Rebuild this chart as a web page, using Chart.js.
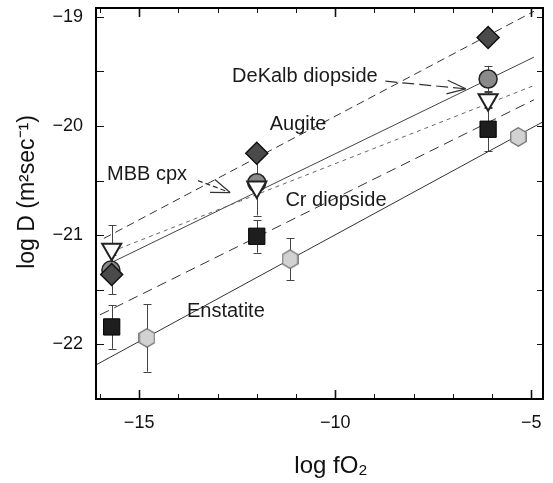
<!DOCTYPE html>
<html>
<head>
<meta charset="utf-8">
<script src="https://cdn.jsdelivr.net/npm/chart.js@4.4.1/dist/chart.umd.min.js"></script>
<style>
  html, body { margin: 0; padding: 0; background: #fff; }
  #wrap { width: 553px; height: 483px; }
</style>
</head>
<body>
<div id="wrap"><canvas id="diffusion"></canvas></div>
<script>
// measured points: log fO2 (x), log D (y), half error bar
const augiteX = [-15.7, -12.0, -6.1];
const augiteY = [-21.36, -20.25, -19.19];
const augiteErr = [0.18, 0, 0];

const dekalbX = [-15.72, -12.0, -6.1];
const dekalbY = [-21.32, -20.52, -19.57];
const dekalbErr = [0, 0, 0.12];

const mbbX = [-15.7, -12.0, -6.1];
const mbbY = [-21.13, -20.56, -19.76];
const mbbErr = [0.22, 0.26, 0.08];

const crX = [-15.7, -12.0, -6.1];
const crY = [-21.84, -21.01, -20.03];
const crErr = [0.2, 0.15, 0.2];

const enstatiteX = [-14.8, -11.15, -5.33];
const enstatiteY = [-21.94, -21.22, -20.10];
const enstatiteErr = [0.31, 0.19, 0];

// fitted lines, two end points each
const augiteFitX = [-15.9, -4.93];
const augiteFitY = [-21.03, -18.95];
const mbbFitX = [-15.7, -4.93];
const mbbFitY = [-21.15, -19.63];
const dekalbFitX = [-15.93, -4.93];
const dekalbFitY = [-21.29, -19.37];
const crFitX = [-16.0, -4.93];
const crFitY = [-21.73, -19.76];
const enstatiteFitX = [-16.11, -4.69];
const enstatiteFitY = [-22.19, -19.96];

// labelled ticks
const xLabelled = [-15, -10, -5];
const yLabelled = [-22, -21, -20, -19];

const FONT = '"Liberation Sans", Arial, Helvetica, sans-serif';

const pts = (xs, ys) => xs.map((x, i) => ({ x: x, y: ys[i] }));
const isIn = (list, v) => list.some(t => Math.abs(t - v) < 1e-6);
const minus = v => String(v).replace('-', '\u2212');

function hexagon() {
    const c = document.createElement('canvas');
    c.width = 17; c.height = 20;
    const g = c.getContext('2d');
    g.beginPath();
    g.moveTo(8.5, 0.8);
    g.lineTo(16.2, 5.3);
    g.lineTo(16.2, 14.7);
    g.lineTo(8.5, 19.2);
    g.lineTo(0.8, 14.7);
    g.lineTo(0.8, 5.3);
    g.closePath();
    g.fillStyle = '#d2d2d2';
    g.fill();
    g.strokeStyle = '#666';
    g.lineWidth = 1.2;
    g.stroke();
    return c;
}

const errSets = [
    [augiteX, augiteY, augiteErr],
    [dekalbX, dekalbY, dekalbErr],
    [mbbX, mbbY, mbbErr],
    [crX, crY, crErr],
    [enstatiteX, enstatiteY, enstatiteErr]
];

// text labels with arrows (data coordinates)
const notes = [
    { text: 'DeKalb diopside', x: -12.63, y: -19.594, arrow: [-8.72, -19.59, -6.67, -19.66], dash: [12, 5] },
    { text: 'Augite', x: -11.67, y: -20.04 },
    { text: 'MBB cpx', x: -15.82, y: -20.495, arrow: [-13.5, -20.50, -12.68, -20.61], dash: [5, 3] },
    { text: 'Cr diopside', x: -11.27, y: -20.733 },
    { text: 'Enstatite', x: -13.78, y: -21.752 }
];

const errorBars = {
    id: 'errorBars',
    beforeDatasetsDraw(chart) {
        const { ctx, scales: { x, y } } = chart;
        ctx.save();
        ctx.strokeStyle = '#444';
        ctx.lineWidth = 1;
        errSets.forEach(([xs, ys, es]) => {
            xs.forEach((v, i) => {
                if (!es[i]) return;
                const px = Math.round(x.getPixelForValue(v)) + 0.5;
                const top = y.getPixelForValue(ys[i] + es[i]);
                const bot = y.getPixelForValue(ys[i] - es[i]);
                ctx.beginPath();
                ctx.moveTo(px, top); ctx.lineTo(px, bot);
                ctx.moveTo(px - 4, Math.round(top) + 0.5); ctx.lineTo(px + 4, Math.round(top) + 0.5);
                ctx.moveTo(px - 4, Math.round(bot) + 0.5); ctx.lineTo(px + 4, Math.round(bot) + 0.5);
                ctx.stroke();
            });
        });
        ctx.restore();
    }
};

const decorations = {
    id: 'decorations',
    afterDraw(chart) {
        const { ctx, chartArea: a, scales: { x, y } } = chart;
        ctx.save();

        // annotations
        ctx.fillStyle = '#1a1a1a';
        ctx.font = '20px ' + FONT;
        ctx.textAlign = 'left';
        ctx.textBaseline = 'alphabetic';
        notes.forEach(n => {
            ctx.fillText(n.text, x.getPixelForValue(n.x), y.getPixelForValue(n.y));
            if (!n.arrow) return;
            const x1 = x.getPixelForValue(n.arrow[0]), y1 = y.getPixelForValue(n.arrow[1]);
            const x2 = x.getPixelForValue(n.arrow[2]), y2 = y.getPixelForValue(n.arrow[3]);
            ctx.strokeStyle = '#333';
            ctx.lineWidth = 1.2;
            ctx.setLineDash(n.dash);
            ctx.beginPath();
            ctx.moveTo(x1, y1); ctx.lineTo(x2, y2);
            ctx.stroke();
            ctx.setLineDash([]);
            const ang = Math.atan2(y2 - y1, x2 - x1);
            [-0.35, 0.35].forEach(d => {
                ctx.beginPath();
                ctx.moveTo(x2, y2);
                ctx.lineTo(x2 - 20 * Math.cos(ang + d), y2 - 20 * Math.sin(ang + d));
                ctx.stroke();
            });
        });

        // inward ticks on all four sides
        ctx.strokeStyle = '#111';
        x.ticks.forEach(t => {
            const major = isIn(xLabelled, t.value);
            const px = Math.round(x.getPixelForValue(t.value)) + 0.5;
            const len = major ? 9 : 5;
            ctx.lineWidth = major ? 1.6 : 1;
            ctx.beginPath();
            ctx.moveTo(px, a.bottom); ctx.lineTo(px, a.bottom - len);
            ctx.moveTo(px, a.top); ctx.lineTo(px, a.top + len);
            ctx.stroke();
        });
        ctx.lineWidth = 1.2;
        y.ticks.forEach(t => {
            const py = Math.round(y.getPixelForValue(t.value)) + 0.5;
            ctx.beginPath();
            ctx.moveTo(a.left, py); ctx.lineTo(a.left + 8, py);
            ctx.moveTo(a.right, py); ctx.lineTo(a.right - 6, py);
            ctx.stroke();
        });

        // frame
        ctx.lineWidth = 2;
        ctx.strokeStyle = '#000';
        ctx.strokeRect(a.left, a.top, a.right - a.left, a.bottom - a.top);

        // axis titles
        ctx.fillStyle = '#111';
        ctx.font = '24px ' + FONT;
        ctx.textAlign = 'center';
        ctx.fillText('log fO\u2082', 331, 473);
        ctx.font = '23px ' + FONT;
        ctx.save();
        ctx.translate(34, 192);
        ctx.rotate(-Math.PI / 2);
        ctx.fillText('log D (m\u00B2sec\u207B\u00B9)', 0, 0);
        ctx.restore();

        ctx.restore();
    }
};

const pointSet = (label, xs, ys, style, order) => Object.assign({
    label: label,
    data: pts(xs, ys),
    showLine: false,
    order: order
}, style);

const fitSet = (xs, ys, dash, color, order) => ({
    data: pts(xs, ys),
    showLine: true,
    pointRadius: 0,
    borderColor: color,
    borderWidth: 1,
    borderDash: dash,
    order: order
});

new Chart(document.getElementById('diffusion'), {
    type: 'scatter',
    data: {
        datasets: [
            pointSet('Augite', augiteX, augiteY, {
                pointStyle: 'rectRot', pointRadius: 11,
                pointBackgroundColor: '#4a4a4a', pointBorderColor: '#111', pointBorderWidth: 1.5
            }, 0),
            pointSet('MBB cpx', mbbX, mbbY, {
                pointStyle: 'triangle', pointRotation: 180, pointRadius: 11,
                pointBackgroundColor: '#fff', pointBorderColor: '#222', pointBorderWidth: 2
            }, 1),
            pointSet('Cr diopside', crX, crY, {
                pointStyle: 'rect', pointRadius: 11.5,
                pointBackgroundColor: '#1e1e1e', pointBorderColor: '#000', pointBorderWidth: 1
            }, 2),
            pointSet('Enstatite', enstatiteX, enstatiteY, {
                pointStyle: hexagon(), pointRadius: 10
            }, 3),
            pointSet('DeKalb diopside', dekalbX, dekalbY, {
                pointStyle: 'circle', pointRadius: 9,
                pointBackgroundColor: '#8a8a8a', pointBorderColor: '#222', pointBorderWidth: 1.5
            }, 4),
            fitSet(augiteFitX, augiteFitY, [8, 5], '#333', 5),
            fitSet(mbbFitX, mbbFitY, [4, 4], '#666', 6),
            fitSet(dekalbFitX, dekalbFitY, [], '#444', 7),
            fitSet(crFitX, crFitY, [10, 6], '#333', 8),
            fitSet(enstatiteFitX, enstatiteFitY, [], '#333', 9)
        ]
    },
    options: {
        responsive: true,
        maintainAspectRatio: false,
        animation: false,
        devicePixelRatio: 1,
        layout: { autoPadding: false, padding: { top: 8, right: 10, left: 0, bottom: 0 } },
        plugins: {
            legend: { display: false },
            tooltip: { enabled: false }
        },
        scales: {
            x: {
                type: 'linear',
                min: -16.1,
                max: -4.7,
                afterFit: s => {
                    s.height = 84;
                    s.paddingLeft = 0;
                    s.paddingRight = 0;
                },
                grid: { display: false, drawTicks: false },
                border: { display: false },
                ticks: {
                    stepSize: 1,
                    includeBounds: false,
                    autoSkip: false,
                    maxRotation: 0,
                    padding: 13,
                    color: '#111',
                    font: { family: FONT, size: 18 },
                    callback: v => isIn(xLabelled, v) ? minus(Math.round(v)) : ''
                }
            },
            y: {
                type: 'linear',
                min: -22.5,
                max: -18.92,
                afterFit: s => {
                    s.width = 96;
                    s.paddingTop = 0;
                    s.paddingBottom = 0;
                },
                grid: { display: false, drawTicks: false },
                border: { display: false },
                ticks: {
                    stepSize: 0.5,
                    includeBounds: false,
                    autoSkip: false,
                    padding: 13,
                    color: '#111',
                    font: { family: FONT, size: 18 },
                    callback: v => isIn(yLabelled, v) ? minus(Math.round(v)) : ''
                }
            }
        }
    },
    plugins: [errorBars, decorations]
});
</script>
</body>
</html>
